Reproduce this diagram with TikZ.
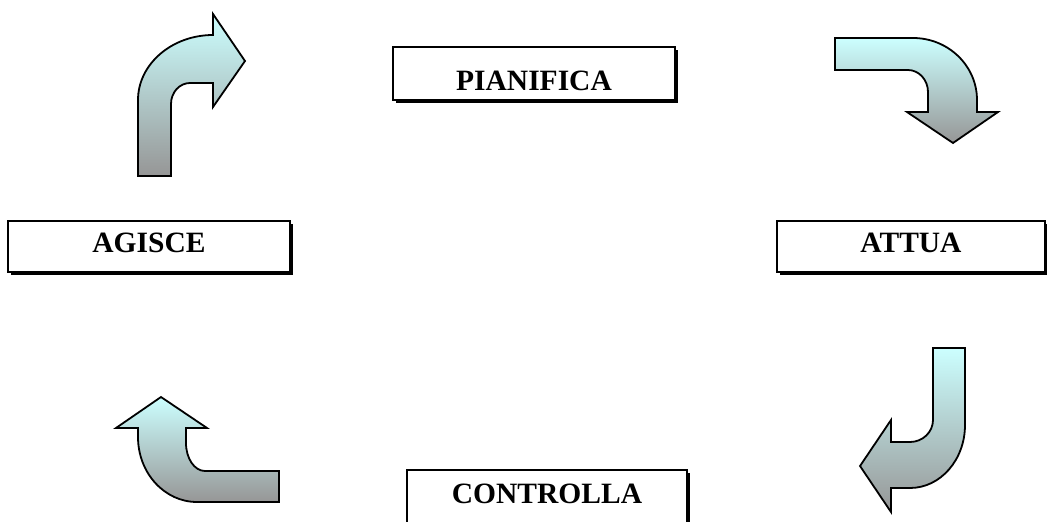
\documentclass[tikz,border=0pt]{standalone}
\usepackage{fontspec}
\setmainfont{Liberation Serif}
\usetikzlibrary{shadows}

\definecolor{paleaqua}{RGB}{204,255,255}
\definecolor{steelgrey}{RGB}{150,150,150}

\begin{document}
\begin{tikzpicture}[x=1pt,y=-1pt,
                    stage/.style={draw,line width=1.6pt,fill=white,inner sep=0pt,
                                  font=\fontsize{29.5pt}{34pt}\selectfont\bfseries,
                                  text height=19pt,text depth=8pt,
                                  drop shadow={shadow xshift=2.8pt,shadow yshift=-2.8pt,fill=black,opacity=1}},
                    turn/.style={draw,line width=1.8pt,line join=miter,top color=paleaqua,bottom color=steelgrey}]

          \useasboundingbox (0,0) rectangle (1047,522);

          % Phases
          \node[stage,minimum width=282pt,minimum height=53pt,text height=33pt,text depth=0pt] (plan) at (534,73.5) {PIANIFICA};
          \node[stage,minimum width=268pt,minimum height=51pt] (attua) at (911,246.5) {ATTUA};
          \node[stage,minimum width=280pt,minimum height=56pt] (check) at (547,498) {CONTROLLA};
          \node[stage,minimum width=282pt,minimum height=51pt] (agisce) at (149,246.5) {AGISCE};

          % Bent arrows
          \path[turn] (138,176) -- (138,100) .. controls (138,64) and (172,35) .. (213,35)
            -- (213,14) -- (245,61) -- (213,107) -- (213,83) -- (190,83)
            .. controls (179.5,83) and (171,92.4) .. (171,104) -- (171,176) -- cycle;

          \path[turn] (835,38) -- (913,38) .. controls (948.3,38) and (977,65.8) .. (977,100)
            -- (977,112) -- (998,112) -- (953,143) -- (907,112) -- (928,112) -- (928,92)
            .. controls (928,79.9) and (919,70) .. (908,70) -- (835,70) -- cycle;

          \path[turn] (933,348) -- (965,348) -- (965,425) .. controls (965,459.8) and (940.4,488) .. (910,488)
            -- (891,488) -- (891,512) -- (860,466) -- (891,420) -- (891,442) -- (910,442)
            .. controls (922.7,442) and (933,432.1) .. (933,420) -- cycle;

          \path[turn] (279,471) -- (279,502) -- (197,502) .. controls (164.4,502) and (138,472.9) .. (138,437)
            -- (138,428) -- (116,428) -- (161,397) -- (207,428) -- (186,428) -- (186,443)
            .. controls (186,458.5) and (194.5,471) .. (205,471) -- cycle;
        \end{tikzpicture}
\end{document}
